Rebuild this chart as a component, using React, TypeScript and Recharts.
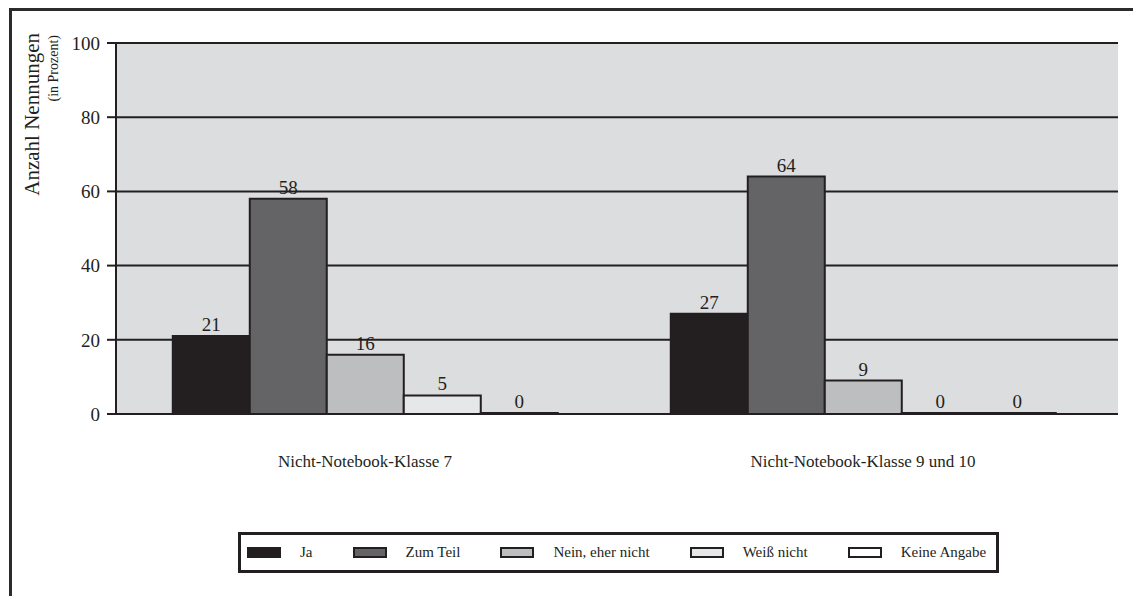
import { BarChart, Bar, XAxis, YAxis, CartesianGrid, LabelList } from "recharts";

// categories and series values
const categories = ["Nicht-Notebook-Klasse 7", "Nicht-Notebook-Klasse 9 und 10"];
const seriesNames = ["Ja", "Zum Teil", "Nein, eher nicht", "Weiß nicht", "Keine Angabe"];
const seriesKeys = ["ja", "zumTeil", "nein", "weissNicht", "keineAngabe"];
const seriesColors = ["#231f20", "#646466", "#bdbec0", "#e6e7e8", "#ffffff"];

const ja = [21, 27];
const zumTeil = [58, 64];
const nein = [16, 9];
const weissNicht = [5, 0];
const keineAngabe = [0, 0];

const yTicks = [0, 20, 40, 60, 80, 100];

const seriesValues = [ja, zumTeil, nein, weissNicht, keineAngabe];

const data = categories.map((name, i) => {
  const row: Record<string, string | number> = { name };
  seriesKeys.forEach((k, s) => {
    row[k] = seriesValues[s][i];
  });
  return row;
});

const FONT = '"Liberation Serif", "Times New Roman", serif';
const INK = "#231f20";

function CategoryTick(props: any) {
  const { x, y, payload } = props;
  return (
    <text x={x} y={y + 53} textAnchor="middle" fontSize={17} fill={INK} fontFamily={FONT}>
      {payload.value}
    </text>
  );
}

function YLabel() {
  return (
    <g fontFamily={FONT} fill={INK}>
      <text x={31} y={25} transform="rotate(-90, 31, 25)" textAnchor="end" fontSize={21}>
        Anzahl Nennungen
      </text>
      <text x={50} y={27} transform="rotate(-90, 50, 27)" textAnchor="end" fontSize={14}>
        (in Prozent)
      </text>
    </g>
  );
}

export default function App() {
  return (
    <div style={{ position: "relative", width: 1133, height: 600, fontFamily: FONT }}>
      <div
        style={{
          position: "absolute",
          left: 1,
          top: 0,
          width: 1131,
          height: 620,
          border: "3px solid #2b2b2b",
          boxSizing: "border-box",
        }}
      />
      <div style={{ position: "absolute", left: 0, top: 0 }}>
        <BarChart
          width={1133}
          height={590}
          data={data}
          margin={{ top: 35, right: 23, left: 0, bottom: 124 }}
          barCategoryGap="11.4%"
          barGap={0}
        >
          <CartesianGrid
            horizontal
            vertical={false}
            fill="#dcdddf"
            fillOpacity={1}
            stroke={INK}
            strokeWidth={2}
          />
          <XAxis
            dataKey="name"
            height={60}
            padding={{ left: 0, right: 6 }}
            axisLine={{ stroke: INK, strokeWidth: 2 }}
            tickLine={false}
            tickSize={0}
            tickMargin={0}
            tick={<CategoryTick />}
            interval={0}
          />
          <YAxis
            width={108}
            domain={[0, 100]}
            ticks={yTicks}
            interval={0}
            axisLine={{ stroke: INK, strokeWidth: 2 }}
            tickLine={{ stroke: INK, strokeWidth: 2 }}
            tickSize={9}
            tickMargin={7}
            tick={{ fontSize: 19, fill: INK, fontFamily: FONT }}
            label={<YLabel />}
          />
          <YAxis
            yAxisId="right"
            orientation="right"
            width={0}
            domain={[0, 100]}
            tick={false}
            tickLine={false}
            axisLine={{ stroke: INK, strokeWidth: 2 }}
          />
          {seriesKeys.map((k, s) => (
            <Bar
              key={k}
              dataKey={k}
              name={seriesNames[s]}
              fill={seriesColors[s]}
              stroke={INK}
              strokeWidth={2}
              minPointSize={1}
              isAnimationActive={false}
            >
              <LabelList
                dataKey={k}
                position="top"
                offset={5}
                style={{ fontSize: 19, fill: INK, fontFamily: FONT }}
              />
            </Bar>
          ))}
        </BarChart>
      </div>
      <div
        style={{
          position: "absolute",
          left: 230,
          top: 524,
          height: 41,
          display: "flex",
          alignItems: "center",
          padding: "0 10px 0 6px",
          border: `3px solid ${INK}`,
          boxSizing: "border-box",
          fontSize: 15,
          color: INK,
          background: "#fff",
        }}
      >
        {seriesNames.map((n, s) => (
          <div
            key={n}
            style={{
              display: "flex",
              alignItems: "center",
              marginRight: s < seriesNames.length - 1 ? 40 : 0,
            }}
          >
            <span
              style={{
                display: "inline-block",
                width: 34,
                height: 11,
                background: seriesColors[s],
                border: `2px solid ${INK}`,
                boxSizing: "border-box",
                marginRight: 19,
              }}
            />
            <span style={{ whiteSpace: "nowrap" }}>{n}</span>
          </div>
        ))}
      </div>
    </div>
  );
}
